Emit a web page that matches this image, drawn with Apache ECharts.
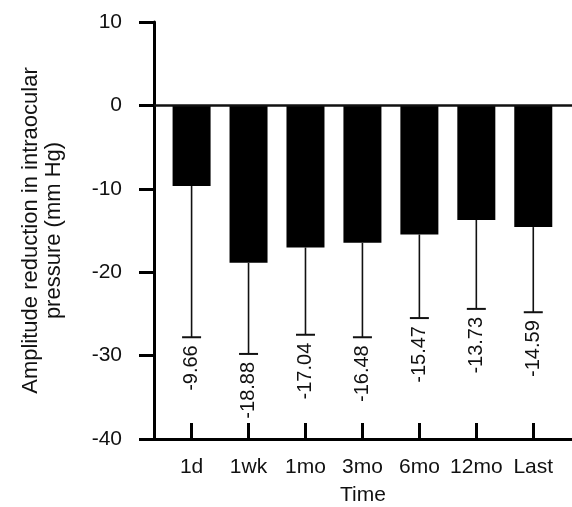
<!DOCTYPE html>
<html>
<head>
<meta charset="utf-8">
<script src="https://cdn.jsdelivr.net/npm/echarts@6/dist/echarts.min.js"></script>
<style>
html,body{margin:0;padding:0;background:#fff;}
#chart{width:572px;height:507px;}
</style>
</head>
<body>
<div id="chart"></div>
<script>
const categories = ['1d', '1wk', '1mo', '3mo', '6mo', '12mo', 'Last'];
const means = [-9.66, -18.88, -17.04, -16.48, -15.47, -13.73, -14.59];
const errorLows = [-27.8, -29.8, -27.5, -27.8, -25.5, -24.4, -24.8];
const yMin = -40, yMax = 10, yInterval = 10;
const xTitle = 'Time';
const yTitle = 'Amplitude reduction in intraocular\npressure (mm Hg)';

const FONT = 'Liberation Sans, Arial, Helvetica, sans-serif';
const idx = categories.map((c, i) => i);

const chart = echarts.init(document.getElementById('chart'), null, {renderer: 'canvas'});
chart.setOption({
  animation: false,
  backgroundColor: '#fff',
  grid: {left: 154, right: 0, top: 22, bottom: 68, containLabel: false, outerBoundsMode: 'none'},
  xAxis: {
    type: 'value',
    min: -0.66, max: 6.68,
    name: xTitle,
    nameLocation: 'middle',
    nameGap: 46,
    nameTextStyle: {fontSize: 21, color: '#111', fontFamily: FONT},
    axisLine: {onZero: false, lineStyle: {color: '#000', width: 3}},
    axisTick: {show: true, inside: true, length: 16, customValues: idx, lineStyle: {color: '#000', width: 3}},
    axisLabel: {customValues: idx, formatter: v => categories[v], fontSize: 21, color: '#111', fontFamily: FONT, margin: 18},
    splitLine: {show: false}
  },
  yAxis: {
    type: 'value',
    min: yMin, max: yMax, interval: yInterval,
    name: yTitle,
    nameLocation: 'middle',
    nameGap: 89,
    nameTextStyle: {fontSize: 22, lineHeight: 23, color: '#111', fontFamily: FONT, align: 'center'},
    axisLine: {onZero: false, lineStyle: {color: '#000', width: 3}},
    axisTick: {show: true, inside: false, length: 15, lineStyle: {color: '#000', width: 3}},
    axisLabel: {fontSize: 21, color: '#111', fontFamily: FONT, margin: 32},
    splitLine: {show: false}
  },
  series: [
    {
      type: 'bar',
      data: means.map((v, i) => [i, v]),
      barWidth: 38,
      itemStyle: {color: '#000'},
      markLine: {
        silent: true,
        symbol: 'none',
        label: {show: false},
        lineStyle: {color: '#111', width: 2.5, type: 'solid'},
        data: [{yAxis: 0}]
      }
    },
    {
      type: 'custom',
      data: means.map((v, i) => [i, v, errorLows[i]]),
      renderItem: function (params, api) {
        const x = api.value(0);
        const top = api.coord([x, api.value(1)]);
        const bot = api.coord([x, api.value(2)]);
        const cap = 9.5;
        return {
          type: 'group',
          children: [
            {type: 'line', shape: {x1: top[0], y1: top[1], x2: bot[0], y2: bot[1]}, style: {stroke: '#111', lineWidth: 1.6}},
            {type: 'line', shape: {x1: bot[0] - cap, y1: bot[1], x2: bot[0] + cap, y2: bot[1]}, style: {stroke: '#111', lineWidth: 2}},
            {type: 'text', x: bot[0], y: bot[1] + 8, rotation: Math.PI / 2,
              style: {text: api.value(1).toFixed(2), align: 'right', verticalAlign: 'middle', fontSize: 20, fontFamily: FONT, fill: '#111'}}
          ]
        };
      },
      z: 5
    }
  ]
});
</script>
</body>
</html>
